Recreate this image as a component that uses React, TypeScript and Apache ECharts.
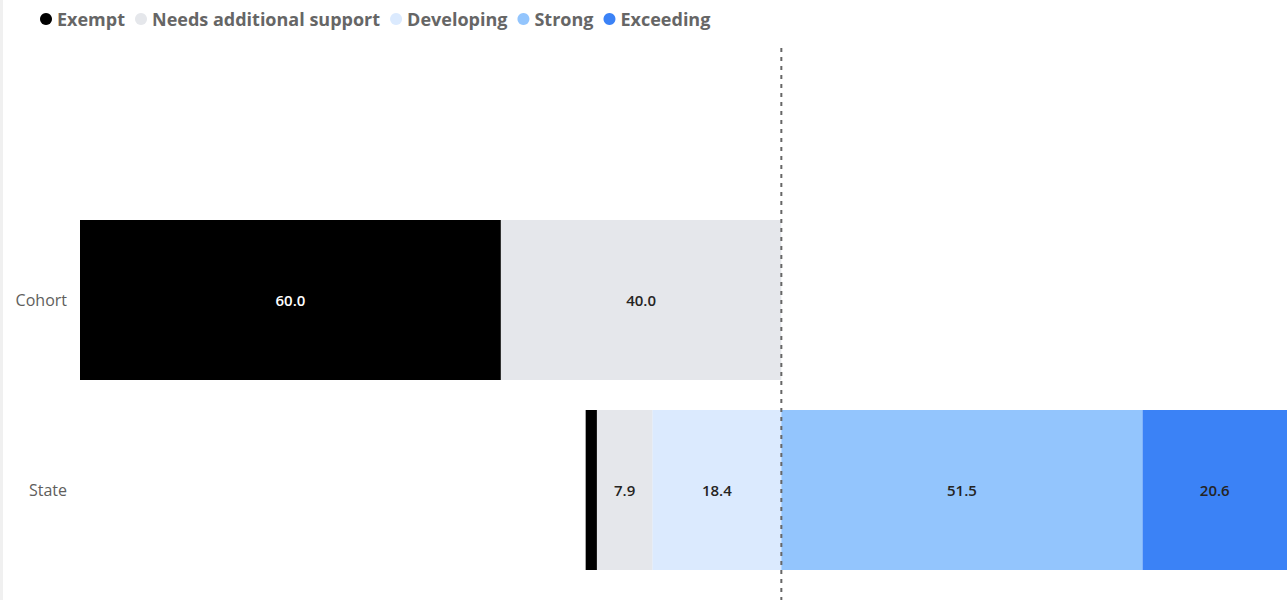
import React, { useEffect, useRef } from "react";
import * as echarts from "echarts";

const categories = ["Cohort", "State"];
const legendOrder = ["Exempt", "Needs additional support", "Developing", "Strong", "Exceeding"];
const exempt = [60.0, 1.6];
const needsSupport = [40.0, 7.9];
const developing = [0, 18.4];
const strong = [0, 51.5];
const exceeding = [0, 20.6];
const colors: Record<string, string> = {
  Exempt: "#000000",
  "Needs additional support": "#E5E7EB",
  Developing: "#DBEAFE",
  Strong: "#93C5FD",
  Exceeding: "#3B82F6",
};

export default function App() {
  const ref = useRef<HTMLDivElement>(null);
  useEffect(() => {
    if (!ref.current) return;
    const chart = echarts.init(ref.current, undefined, { renderer: "svg" });
    const mk = (name: string, vals: number[], negative: boolean, labelColor: string) => ({
      name,
      type: "bar",
      stack: "total",
      barWidth: 160,
      data: vals.map((v) => (v === 0 ? null : negative ? -v : v)),
      itemStyle: { color: colors[name] },
      label: {
        show: true,
        position: "inside",
        color: labelColor,
        fontSize: 15,
        fontWeight: 600,
        fontFamily: "Open Sans",
        formatter: (p: any) => {
          const a = Math.abs(p.value);
          return a < 3 ? "" : a.toFixed(1);
        },
      },
    });
    chart.setOption({
      animation: false,
      legend: {
        data: legendOrder,
        left: 35,
        top: 5,
        icon: "circle",
        itemWidth: 12,
        itemHeight: 12,
        itemGap: 10,
        textStyle: { color: "#666666", fontWeight: "bold", fontSize: 18, fontFamily: "Open Sans" },
      },
      grid: { left: 80, right: 1, top: 205, bottom: 15 },
      xAxis: {
        type: "value",
        min: -100,
        max: "dataMax",
        show: false,
        splitLine: { show: false },
      },
      yAxis: {
        type: "category",
        data: categories,
        inverse: true,
        axisLine: { show: false },
        axisTick: { show: false },
        axisLabel: { color: "#605E5C", fontSize: 16, fontFamily: "Open Sans", margin: 13 },
      },
      series: [
        mk("Developing", developing, true, "#252423"),
        mk("Needs additional support", needsSupport, true, "#252423"),
        mk("Exempt", exempt, true, "#FFFFFF"),
        mk("Strong", strong, false, "#252423"),
        mk("Exceeding", exceeding, false, "#252423"),
      ],
    });
    const x0 = chart.convertToPixel({ xAxisIndex: 0 }, 0) as number;
    chart.setOption({
      graphic: [
        { type: "rect", shape: { x: 0, y: 0, width: 3, height: 600 }, style: { fill: "#F0F0F0" } },
        {
          type: "line",
          shape: { x1: x0, y1: 48, x2: x0, y2: 600 },
          style: { stroke: "#666666", lineWidth: 2, lineDash: [4, 5] },
          z: 100,
        },
      ],
    });
    return () => chart.dispose();
  }, []);
  return <div ref={ref} style={{ position: "absolute", left: 0, top: 0, width: 1288, height: 600 }} />;
}
